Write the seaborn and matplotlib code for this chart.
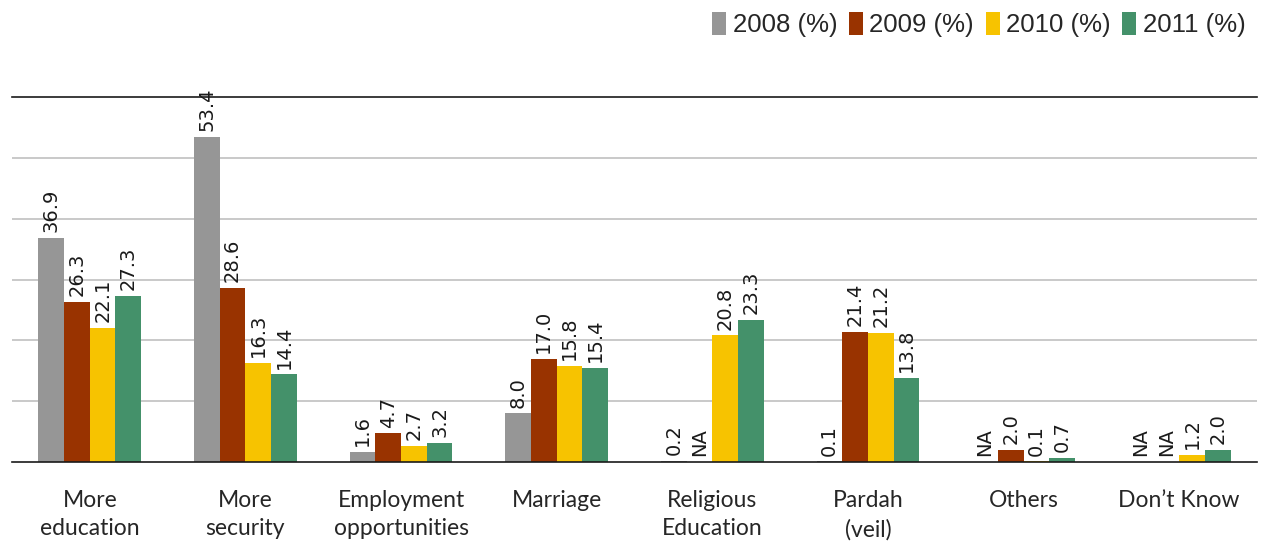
import numpy as np
import pandas as pd
import matplotlib
matplotlib.use("Agg")
import matplotlib.pyplot as plt
import seaborn as sns

categories = ["More\neducation", "More\nsecurity", "Employment\nopportunities", "Marriage",
              "Religious\nEducation", "Pardah\n(veil)", "Others", "Don\u2019t Know"]
series = ["2008 (%)", "2009 (%)", "2010 (%)", "2011 (%)"]
v2008 = [36.9, 53.4, 1.6, 8.0, 0.2, 0.1, np.nan, np.nan]
v2009 = [26.3, 28.6, 4.7, 17.0, np.nan, 21.4, 2.0, np.nan]
v2010 = [22.1, 16.3, 2.7, 15.8, 20.8, 21.2, 0.1, 1.2]
v2011 = [27.3, 14.4, 3.2, 15.4, 23.3, 13.8, 0.7, 2.0]
colors = ["#969696", "#993300", "#F7C300", "#44916A"]

values = [v2008, v2009, v2010, v2011]
df = pd.DataFrame({
    "category": np.tile(categories, len(series)),
    "series": np.repeat(series, len(categories)),
    "value": np.concatenate(values),
})

sns.set_style("white")
plt.rcParams["font.family"] = ["DejaVu Sans"]

fig = plt.figure(figsize=(12.61, 5.41), dpi=100)
ax = fig.add_axes([0.0095, 0.146, 0.9873, 0.6747])

sns.barplot(data=df, x="category", y="value", hue="series", order=categories,
            hue_order=series, palette=colors, width=0.66, saturation=1,
            linewidth=0, ax=ax, legend=True)

ax.set_ylim(0, 60)
ax.set_xlim(-0.5, len(categories) - 0.5)
ax.set_yticks(np.arange(10, 60, 10))
ax.yaxis.grid(True, color="#C0C0C0", linewidth=1.2)
ax.set_axisbelow(True)
ax.tick_params(axis="y", left=False, labelleft=False)
ax.set_xlabel("")
ax.set_ylabel("")

for side in ["left", "right"]:
    ax.spines[side].set_visible(False)
for side in ["top", "bottom"]:
    ax.spines[side].set_color("#1a1a1a")
    ax.spines[side].set_linewidth(1.2)

# category boundary ticks
ax.set_xticks(np.arange(-0.5, len(categories)), minor=True)
ax.tick_params(axis="x", which="minor", length=8, width=1.2, color="#555555")
ax.tick_params(axis="x", which="major", length=0, pad=20)
ax.set_xticklabels(categories, fontsize=16.5, fontfamily="Lato", linespacing=1.45)

# value labels, "NA" where no value exists; bars with missing values are not
# drawn, so each series' dodge offset is taken from its drawn bars
for cont, vals in zip(ax.containers, values):
    bars = list(cont)
    centers = np.array([b.get_x() + b.get_width() / 2 for b in bars])
    offset = np.mean(centers - np.round(centers))
    for i, v in enumerate(vals):
        xc = i + offset
        if np.isnan(v):
            txt, y = "NA", 0
        else:
            txt, y = f"{v:.1f}", v
        ax.annotate(txt, (xc, y), xytext=(0, 4.2), textcoords="offset points",
                    rotation=90, ha="center", va="bottom", fontsize=14,
                    color="#1a1a1a", annotation_clip=False)

leg = ax.legend(loc="upper right", bbox_to_anchor=(0.997, 1.0),
                bbox_transform=fig.transFigure, ncol=4, frameon=False,
                prop={"family": "Liberation Sans", "size": 18.5},
                handlelength=0.55, handleheight=1.0, handletextpad=0.25,
                columnspacing=0.45, borderaxespad=0.05)

fig.savefig("out.png", dpi=100)
